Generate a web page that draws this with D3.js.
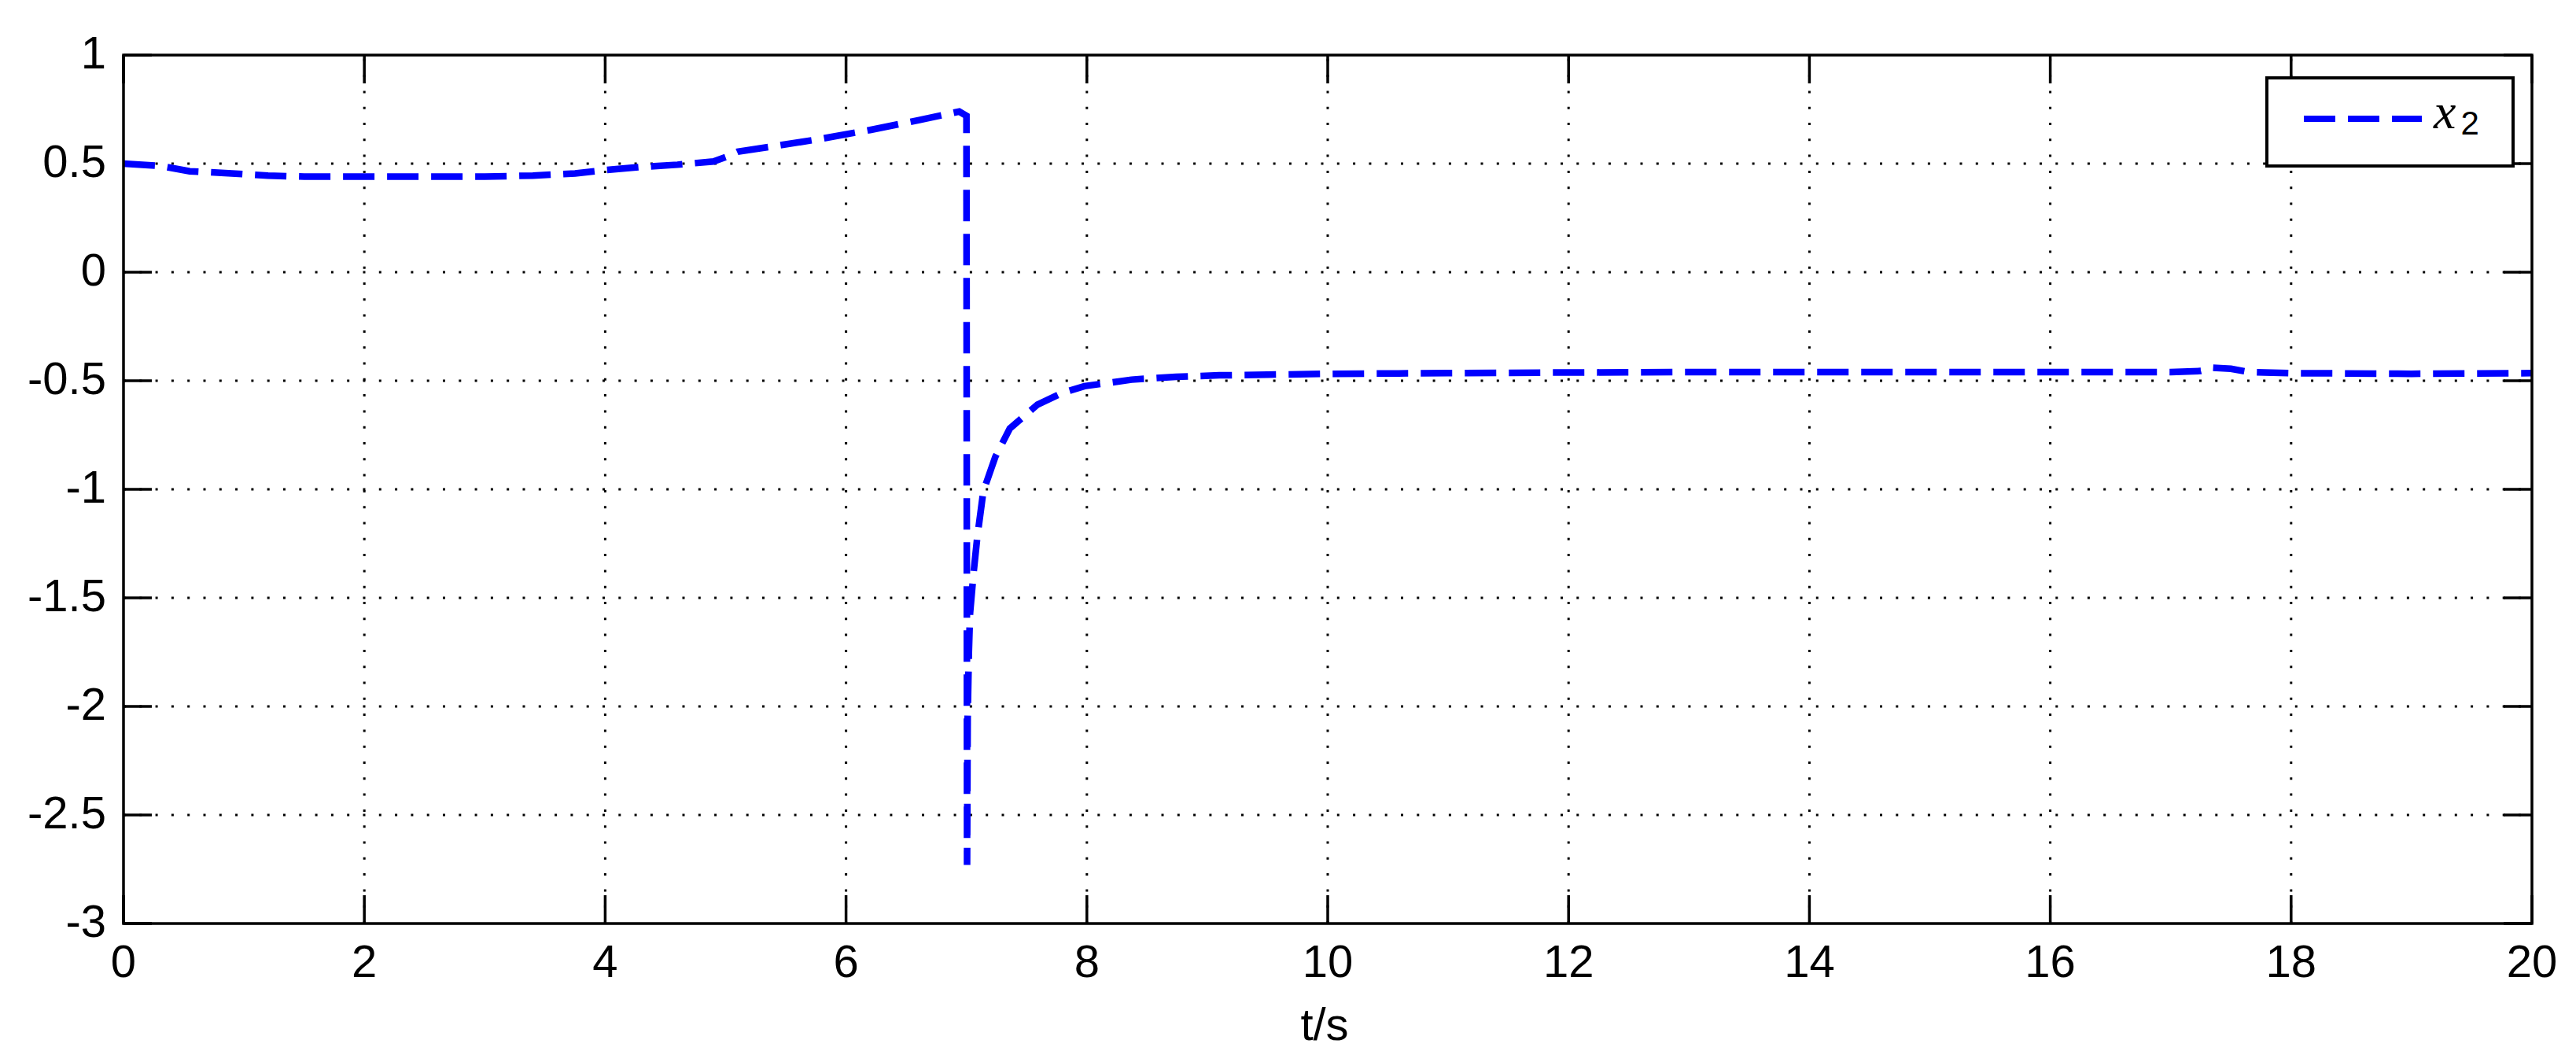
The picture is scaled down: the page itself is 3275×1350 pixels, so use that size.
<!DOCTYPE html>
<html>
<head>
<meta charset="utf-8">
<script src="https://cdn.jsdelivr.net/npm/d3@7"></script>
<style>
  html, body { margin: 0; padding: 0; background: #fff; }
  svg { display: block; }
  text { font-family: "Liberation Sans", Arial, sans-serif; fill: #000; }
</style>
</head>
<body>
<script>
// ---- data ----
const timeS = [0, 0.3, 0.55, 0.9, 1.2, 1.5, 2, 2.5, 3, 3.4, 3.75, 4.0, 4.3, 4.6, 4.9, 5.0, 5.1, 5.4, 5.8, 6.2, 6.6, 6.94, 7.0,
  7.005, 7.01, 7.02, 7.03, 7.06, 7.09, 7.14, 7.24, 7.36, 7.59, 7.8, 7.98, 8.37, 8.74, 9.1, 9.5, 10, 11, 12, 13, 14, 15, 16, 17,
  17.25, 17.35, 17.5, 17.65, 18, 19, 20];
const x2Values = [0.50, 0.49, 0.465, 0.455, 0.445, 0.44, 0.44, 0.44, 0.44, 0.445, 0.455, 0.47, 0.485, 0.495, 0.51, 0.53, 0.555, 0.58, 0.615, 0.655, 0.70, 0.74, 0.72,
  -2.73, -2.05, -1.75, -1.57, -1.38, -1.22, -1.01, -0.85, -0.72, -0.61, -0.555, -0.525, -0.495, -0.482, -0.475, -0.472, -0.468, -0.465, -0.462, -0.46, -0.46, -0.46, -0.46, -0.46,
  -0.455, -0.44, -0.445, -0.46, -0.465, -0.468, -0.465];
const xTicks = [0, 2, 4, 6, 8, 10, 12, 14, 16, 18, 20];
const yTicks = [1, 0.5, 0, -0.5, -1, -1.5, -2, -2.5, -3];
const xLabel = "t/s";
const legendName = "x";
const legendSub = "2";

// ---- layout ----
const W = 3275, H = 1350;
const pL = 157, pR = 3219, pT = 70, pB = 1174;
const tickLen = 36;

const svg = d3.select("body").append("svg").attr("width", W).attr("height", H);
svg.append("rect").attr("width", W).attr("height", H).attr("fill", "#fff");

const x = d3.scaleLinear().domain([0, 20]).range([pL, pR]);
const y = d3.scaleLinear().domain([-3, 1]).range([pB, pT]);

// grid
const grid = svg.append("g").attr("stroke", "#000").attr("stroke-width", 3).attr("stroke-dasharray", "3,17.3");
grid.selectAll(".gx").data(xTicks.filter(d => d > 0 && d < 20)).join("line").attr("class", "gx")
  .attr("x1", d => x(d)).attr("x2", d => x(d)).attr("y1", pB).attr("y2", pT);
grid.selectAll(".gy").data(yTicks.filter(d => d > -3 && d < 1)).join("line").attr("class", "gy")
  .attr("y1", d => y(d)).attr("y2", d => y(d)).attr("x1", pL).attr("x2", pR);

// ticks on all four sides (inward)
const tk = svg.append("g").attr("stroke", "#000").attr("stroke-width", 3.5);
xTicks.forEach(d => {
  tk.append("line").attr("x1", x(d)).attr("x2", x(d)).attr("y1", pB).attr("y2", pB - tickLen);
  tk.append("line").attr("x1", x(d)).attr("x2", x(d)).attr("y1", pT).attr("y2", pT + tickLen);
});
yTicks.forEach(d => {
  tk.append("line").attr("y1", y(d)).attr("y2", y(d)).attr("x1", pL).attr("x2", pL + tickLen);
  tk.append("line").attr("y1", y(d)).attr("y2", y(d)).attr("x1", pR).attr("x2", pR - tickLen);
});

// data line
const pts = timeS.map((t, i) => [t, x2Values[i]]);
const line = d3.line().x(d => x(d[0])).y(d => y(d[1]));
svg.append("path").datum(pts).attr("d", line)
  .attr("fill", "none").attr("stroke", "#0000ff").attr("stroke-width", 8.5)
  .attr("stroke-dasharray", "40,16").attr("stroke-linejoin", "miter").attr("stroke-linecap", "butt");

// frame
svg.append("rect").attr("x", pL).attr("y", pT).attr("width", pR - pL).attr("height", pB - pT)
  .attr("fill", "none").attr("stroke", "#000").attr("stroke-width", 3.5);

// tick labels
svg.append("g").selectAll("text").data(xTicks).join("text")
  .attr("x", d => x(d)).attr("y", 1242).attr("text-anchor", "middle")
  .attr("font-size", 58).text(d => d);
svg.append("g").selectAll("text").data(yTicks).join("text")
  .attr("x", 135).attr("y", d => y(d) + 17).attr("text-anchor", "end")
  .attr("font-size", 58).text(d => d);

// axis label
svg.append("text").attr("x", 1684).attr("y", 1322).attr("text-anchor", "middle")
  .attr("font-size", 58).text(xLabel);

// legend
const lg = svg.append("g");
lg.append("rect").attr("x", 2882).attr("y", 99).attr("width", 313).attr("height", 112)
  .attr("fill", "#fff").attr("stroke", "#000").attr("stroke-width", 4);
lg.append("line").attr("x1", 2929).attr("x2", 3079).attr("y1", 151).attr("y2", 151)
  .attr("stroke", "#0000ff").attr("stroke-width", 8).attr("stroke-dasharray", "40,16");
const lt = lg.append("text").attr("x", 3094).attr("y", 163);
lt.append("tspan").attr("font-family", "Liberation Serif, serif").attr("font-style", "italic")
  .attr("font-size", 64).text(legendName);
lt.append("tspan").attr("font-size", 42).attr("dx", 6).attr("dy", 8).text(legendSub);
</script>
</body>
</html>
